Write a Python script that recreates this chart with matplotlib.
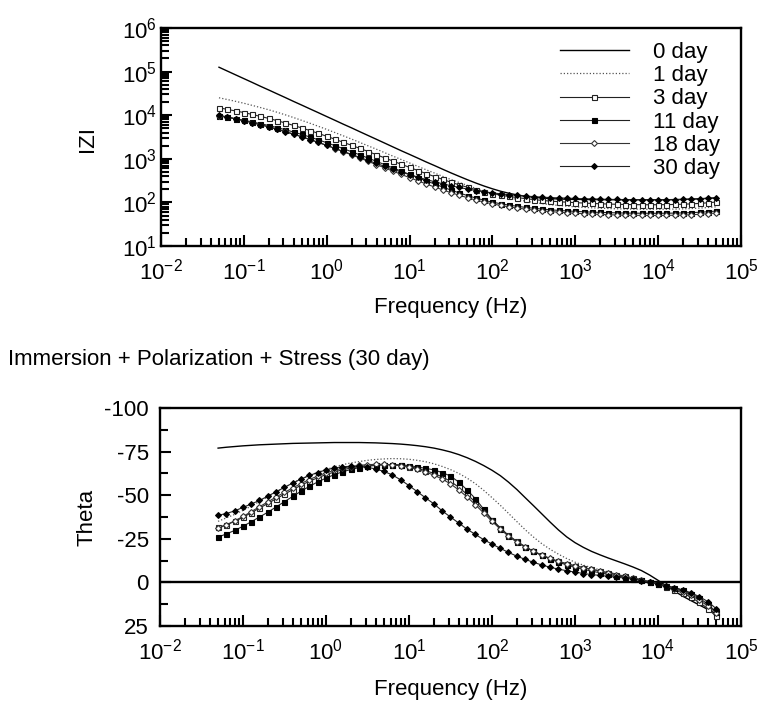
import numpy as np
import matplotlib
matplotlib.use("Agg")
import matplotlib.pyplot as plt
from matplotlib.ticker import LogLocator, FixedLocator, NullFormatter, FuncFormatter, FixedFormatter

# ---------------- data ----------------
freq = [0.0501, 0.0631, 0.0794, 0.1, 0.126, 0.158, 0.2, 0.251, 0.316, 0.398, 0.501, 0.631, 0.794,
        1, 1.26, 1.58, 2, 2.51, 3.16, 3.98, 5.01, 6.31, 7.94,
        10, 12.6, 15.8, 20, 25.1, 31.6, 39.8, 50.1, 63.1, 79.4,
        100, 126, 158, 200, 251, 316, 398, 501, 631, 794,
        1000, 1260, 1580, 2000, 2510, 3160, 3980, 5010, 6310, 7940,
        10000, 12600, 15800, 20000, 25100, 31600, 39800, 50100]

labels = ["0 day", "1 day", "3 day", "11 day", "18 day", "30 day"]

z_0day = [126000, 103000, 84300, 69000, 56500, 46200, 37800, 31000, 25400, 20700, 17000, 13900, 11400,
          9310, 7620, 6240, 5110, 4180, 3420, 2800, 2290, 1870, 1530,
          1260, 1034, 849, 699, 576, 475, 395, 330, 278, 237,
          205, 180, 162, 148, 138, 131, 126, 122, 120, 118,
          117, 117, 116, 116, 115, 115, 115, 115, 115, 115,
          115, 115, 116, 117, 119, 121, 124, 127]
z_1day = [25100, 22900, 20800, 18800, 16800, 15000, 13300, 11700, 10200, 8830, 7600, 6520, 5560,
          4720, 3990, 3370, 2830, 2370, 1980, 1660, 1380, 1150, 962,
          803, 670, 561, 471, 396, 335, 285, 244, 210, 182,
          160, 142, 128, 116, 107, 99.5, 93.5, 88.7, 84.9, 81.7,
          79.1, 76.9, 75.2, 73.6, 72.4, 71.4, 70.6, 70.1, 69.8, 69.5,
          69.7, 69.8, 70.3, 71.1, 72.3, 74.0, 76.2, 79.3]
z_3day = [14800, 13600, 12500, 11500, 10400, 9400, 8430, 7500, 6640, 5830, 5090, 4430, 3820,
          3280, 2810, 2390, 2040, 1730, 1470, 1240, 1050, 885, 750,
          635, 538, 459, 392, 337, 290, 252, 222, 196, 176,
          160, 147, 137, 129, 122, 116, 111, 107, 104, 101,
          98.8, 96.6, 94.6, 93.1, 91.6, 90.6, 89.5, 88.9, 88.5, 88.3,
          88.5, 88.9, 89.7, 90.8, 92.5, 94.8, 97.9, 102]
z_11day = [9550, 8910, 8280, 7660, 7030, 6400, 5800, 5210, 4650, 4110, 3610, 3150, 2720,
           2340, 2000, 1710, 1450, 1230, 1040, 873, 735, 618, 521,
           439, 370, 313, 265, 225, 192, 165, 143, 126, 112,
           101, 93.1, 86.5, 81.3, 76.9, 73.3, 70.1, 67.6, 65.5, 63.7,
           62.2, 61.0, 59.8, 58.9, 58.2, 57.5, 57.0, 56.6, 56.4, 56.3,
           56.2, 56.5, 56.8, 57.4, 58.2, 59.4, 61.0, 63.4]
z_18day = [9770, 9000, 8260, 7520, 6790, 6110, 5450, 4820, 4240, 3700, 3210, 2770, 2380,
           2030, 1720, 1460, 1230, 1040, 875, 736, 619, 520, 439,
           370, 313, 265, 226, 194, 167, 146, 128, 113, 102,
           92.5, 84.9, 78.9, 74.1, 70.0, 66.7, 63.8, 61.5, 59.6, 57.8,
           56.4, 55.1, 54.0, 53.0, 52.1, 51.5, 50.9, 50.6, 50.4, 50.2,
           50.2, 50.4, 50.8, 51.3, 52.2, 53.3, 55.1, 57.3]
z_30day = [10000, 9120, 8260, 7460, 6710, 6010, 5360, 4740, 4170, 3650, 3180, 2750, 2370,
           2030, 1740, 1480, 1260, 1080, 917, 783, 671, 577, 498,
           434, 380, 335, 298, 267, 241, 220, 202, 187, 175,
           165, 157, 150, 144, 139, 136, 132, 129, 127, 125,
           123, 121, 120, 119, 117, 117, 116, 115, 115, 115,
           115, 115, 116, 117, 119, 121, 124, 127]

theta_0day = [-77, -77.5, -77.9, -78.3, -78.6, -78.9, -79.1, -79.3, -79.5, -79.7, -79.8, -79.9, -80,
              -80.1, -80.2, -80.2, -80.2, -80.2, -80.1, -80, -79.8, -79.6, -79.3,
              -78.9, -78.4, -77.8, -77.0, -76.0, -74.8, -73.3, -71.5, -69.4, -67.0,
              -64.3, -61.2, -57.5, -53.2, -48.6, -44, -39.3, -34.6, -30.1, -26.1,
              -22.8, -20.1, -17.8, -15.8, -14, -12.3, -10.6, -8.8, -6.8, -4.2,
              -1.2, 2, 5, 8, 10.5, 13, 15.5, 18]
theta_1day = [-35, -37, -39, -41.3, -43.8, -46.4, -49.1, -51.8, -54.5, -57, -59.3, -61.3, -63.1,
              -64.7, -66.2, -67.5, -68.5, -69.3, -70, -70.5, -70.8, -71, -70.9,
              -70.6, -70, -69.2, -68, -66.5, -64.7, -62.5, -59.8, -56.6, -52.8,
              -48.6, -44.2, -39.6, -34.8, -30.2, -26, -22.2, -19, -16.2, -13.7,
              -11.6, -9.9, -8.5, -7.2, -6, -4.8, -3.7, -2.6, -1.5, -0.4,
              0.8, 2.1, 3.6, 5.3, 7.4, 10, 13.2, 17]
theta_3day = [-31.5, -33, -35, -37.3, -40, -42.6, -45.3, -48, -50.6, -53.2, -55.7, -58, -60,
              -61.8, -63.3, -64.6, -65.6, -66.4, -67, -67.4, -67.6, -67.5, -67.1,
              -66.4, -65.4, -64.1, -62.5, -60.5, -58, -54.5, -50.5, -46, -41,
              -36, -31.3, -27, -23.5, -20.5, -17.8, -15.5, -13.6, -12, -10.7,
              -9.5, -8.5, -7.5, -6.5, -5.5, -4.5, -3.5, -2.5, -1.4, -0.2,
              1.2, 2.6, 4.2, 6.2, 8.6, 11.5, 15, 19.5]
theta_11day = [-26, -27.8, -29.8, -32.2, -34.8, -37.5, -40.3, -43.3, -46.3, -49.3, -52.3, -55.1, -57.6,
               -59.8, -61.8, -63.4, -64.8, -65.8, -66.6, -67.1, -67.4, -67.5, -67.4,
               -67, -66.2, -65.4, -64.5, -63, -61, -57.5, -53, -48, -42,
               -36, -30.8, -26.5, -23, -20.2, -17.8, -15.5, -13.4, -11.6, -10,
               -8.7, -7.5, -6.5, -5.5, -4.6, -3.8, -3, -2.2, -1.3, -0.3,
               0.7, 1.8, 3.1, 4.6, 6.5, 9, 12.5, 17]
theta_18day = [-31, -33, -35.3, -37.8, -40.6, -43.4, -46.2, -49, -51.6, -54.2, -56.7, -59, -61,
               -62.8, -64.3, -65.5, -66.4, -67.1, -67.5, -67.7, -67.7, -67.4, -66.9,
               -66, -64.8, -63.3, -61.5, -59.3, -56.5, -53, -49, -44.5, -39.8,
               -35, -30.6, -26.7, -23.3, -20.4, -17.9, -15.7, -13.8, -12.1, -10.7,
               -9.5, -8.5, -7.5, -6.5, -5.5, -4.5, -3.5, -2.5, -1.5, -0.4,
               0.8, 2, 3.5, 5.3, 7.5, 10.2, 13.5, 17.5]
theta_30day = [-38.5, -39.5, -41, -43, -45, -47, -49.5, -52, -54.5, -57, -59.3, -61.3, -63,
               -64.5, -65.6, -66.3, -66.6, -66.5, -66, -65, -63.6, -61.6, -58.8,
               -55.5, -52, -48.5, -45, -41, -37.5, -34, -30.5, -27.5, -24.5,
               -22, -19.5, -17.2, -15, -13.2, -11.5, -10, -8.7, -7.6, -6.7,
               -5.9, -5.1, -4.5, -4, -3.5, -3, -2.5, -1.8, -1, 0,
               1, 2, 3, 4.3, 6, 8.2, 11, 15]

x_ticks = [1e-2, 1e-1, 1e0, 1e1, 1e2, 1e3, 1e4, 1e5]
theta_ticks = [-100, -75, -50, -25, 0, 25]
theta_tick_labels = ["-100", "-75", "-50", "-25", "0", "25"]
theta_minor = [-87.5, -62.5, -37.5, -12.5, 12.5]

# ---------------- style ----------------
plt.rcParams["font.family"] = ["Liberation Sans", "DejaVu Sans"]
plt.rcParams["mathtext.fontset"] = "custom"
plt.rcParams["mathtext.rm"] = "Liberation Sans"
plt.rcParams["mathtext.it"] = "Liberation Sans:italic"
plt.rcParams["mathtext.default"] = "regular"

FS = 16
styles = [
    dict(color="black", lw=1.0, ls="-"),
    dict(color="#555555", lw=0.9, ls=(0, (1, 1.6))),
    dict(color="#222222", lw=0.8, ls="-", marker="s", ms=3.6, mfc="white", mec="#222222", mew=0.8),
    dict(color="#222222", lw=0.8, ls="-", marker="s", ms=3.6, mfc="black", mec="black", mew=0.8),
    dict(color="#333333", lw=0.8, ls="-", marker="D", ms=3.0, mfc="white", mec="#333333", mew=0.8),
    dict(color="#222222", lw=0.8, ls="-", marker="D", ms=3.0, mfc="black", mec="black", mew=0.8),
]

fig = plt.figure(figsize=(7.59, 7.02), dpi=100)
ax1 = fig.add_axes([161 / 759, 1 - 246 / 702, 580 / 759, 218 / 702])
ax2 = fig.add_axes([160 / 759, 1 - 626 / 702, 581 / 759, 218 / 702])

pow_fmt = FuncFormatter(lambda v, p: r"$10^{%d}$" % int(round(np.log10(v))))

for ax in (ax1, ax2):
    ax.set_xscale("log")
    ax.set_xlim(1e-2, 1e5)
    for s in ax.spines.values():
        s.set_linewidth(1.7)
    ax.xaxis.set_major_locator(FixedLocator(x_ticks))
    ax.xaxis.set_minor_locator(LogLocator(base=10, subs=range(2, 10), numticks=30))
    ax.xaxis.set_major_formatter(pow_fmt)
    ax.xaxis.set_minor_formatter(NullFormatter())
    ax.tick_params(which="both", direction="in", top=False, right=False, width=1.5, labelsize=FS)
    ax.tick_params(which="major", length=8)
    ax.tick_params(which="minor", length=5.5)
    ax.tick_params(axis="x", which="both", pad=9)
    ax.set_xlabel("Frequency (Hz)", fontsize=FS)

# ---- top: |Z| ----
z_series = [z_0day, z_1day, z_3day, z_11day, z_18day, z_30day]
for z, st, lab in zip(z_series, styles, labels):
    ax1.plot(freq, z, label=lab, **st)
ax1.set_yscale("log")
ax1.set_ylim(10, 1e6)
ax1.yaxis.set_major_locator(LogLocator(base=10, numticks=20))
ax1.yaxis.set_minor_locator(LogLocator(base=10, subs=range(2, 10), numticks=30))
ax1.yaxis.set_major_formatter(pow_fmt)
ax1.yaxis.set_minor_formatter(NullFormatter())
ax1.tick_params(axis="y", which="both", pad=3)
ax1.set_ylabel("IZI", fontsize=FS)
ax1.yaxis.set_label_coords(-0.109, 0.49)
ax1.xaxis.set_label_coords(0.5, -0.235)

leg = ax1.legend(loc="upper left", bbox_to_anchor=(560 / 759, 1 - 42 / 702),
                 bbox_transform=fig.transFigure, frameon=False, fontsize=FS,
                 handlelength=3.1, handletextpad=1.1, labelspacing=0.1,
                 borderpad=0, borderaxespad=0, numpoints=1)

# ---- bottom: theta ----
theta_series = [theta_0day, theta_1day, theta_3day, theta_11day, theta_18day, theta_30day]
ax2.axhline(0, color="black", lw=1.7, zorder=1)
for th, st, lab in zip(theta_series, styles, labels):
    ax2.plot(freq, th, label=lab, **st)
ax2.set_ylim(25, -100)
ax2.yaxis.set_major_locator(FixedLocator(theta_ticks))
ax2.yaxis.set_major_formatter(FixedFormatter(theta_tick_labels))
ax2.yaxis.set_minor_locator(FixedLocator(theta_minor))
ax2.tick_params(axis="y", which="both", pad=8)
ax2.set_ylabel("Theta", fontsize=FS)
ax2.yaxis.set_label_coords(-0.108, 0.5)
ax2.xaxis.set_label_coords(0.5, -0.245)

fig.text(8 / 759, 1 - 360 / 702, "Immersion + Polarization + Stress (30 day)",
         fontsize=FS, ha="left", va="center")

fig.savefig("out.png", dpi=100)
